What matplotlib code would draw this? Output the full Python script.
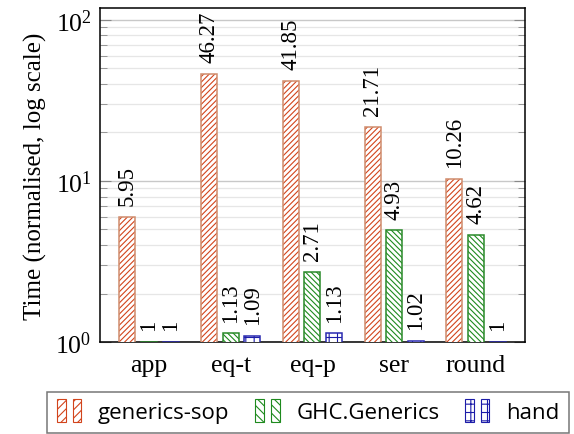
import numpy as np
import matplotlib
matplotlib.use("Agg")
import matplotlib.pyplot as plt
from matplotlib.patches import Rectangle
from matplotlib.legend_handler import HandlerBase

plt.rcParams['font.family'] = 'Liberation Serif'
plt.rcParams['mathtext.fontset'] = 'stix'
plt.rcParams['hatch.linewidth'] = 0.8

benchmarks = ['app', 'eq-t', 'eq-p', 'ser', 'round']
series = ['generics-sop', 'GHC.Generics', 'hand']
sop = [5.95, 46.27, 41.85, 21.71, 10.26]
ghc = [1, 1.13, 2.71, 4.93, 4.62]
hand = [1, 1.09, 1.13, 1.02, 1]
labels = [['5.95', '46.27', '41.85', '21.71', '10.26'],
          ['1', '1.13', '2.71', '4.93', '4.62'],
          ['1', '1.09', '1.13', '1.02', '1']]

hatch_cols = ['#d2441c', '#1e8a1e', '#1c1ca8']
edge_cols = ['#d08c6c', '#2a8a2a', '#2a2ab0']
hatches = ['//////', '\\\\\\\\\\\\', '++']


class TwoBars(HandlerBase):
    def create_artists(self, legend, orig, xd, yd, w, h, fontsize, trans):
        arts = []
        pw = w * 0.36
        for x0 in (0, w * 0.64):
            r = Rectangle((-xd + x0, -yd - h * 0.25), pw, h * 1.5,
                          facecolor='white', edgecolor=orig.get_edgecolor(),
                          hatch=orig.get_hatch(), lw=0.8, transform=trans)
            arts.append(r)
        return arts


fig = plt.figure(figsize=(5.74, 4.35), dpi=100)
ax = fig.add_axes([0.1742, 0.2115, 0.7404, 0.7671])
ax.set_yscale('log')

x = np.arange(len(benchmarks))
w = 0.196
off = 0.264
handles = []
for i, vals in enumerate([sop, ghc, hand]):
    xs = x + (i - 1) * off
    ax.bar(xs, vals, w, color='white', edgecolor=hatch_cols[i], hatch=hatches[i],
           linewidth=0, zorder=3)
    ax.bar(xs, vals, w, fill=False, edgecolor=edge_cols[i], linewidth=1.1, zorder=4)
    handles.append(Rectangle((0, 0), 1, 1, facecolor='white',
                             edgecolor=hatch_cols[i], hatch=hatches[i][:4]))
    for xi, v, t in zip(xs, vals, labels[i]):
        ax.annotate(t, (xi, v), xytext=(0, 8.5), textcoords='offset points',
                    rotation=90, ha='center', va='bottom', fontsize=16.5, zorder=5)

ax.set_xlim(-0.6, 4.6)
ax.set_ylim(1, 118)
ax.set_xticks(x)
ax.set_xticklabels(benchmarks, fontsize=18.5)
ax.tick_params(axis='x', length=0, pad=9)
ax.tick_params(axis='y', which='major', direction='in', length=8, color='#888888',
               left=True, right=True, labelsize=18.5, pad=6)
ax.tick_params(axis='y', which='minor', direction='in', length=5, color='#888888',
               left=True, right=True)
ax.grid(True, which='major', axis='y', color='#c8c8c8', lw=1.0, zorder=0)
ax.grid(True, which='minor', axis='y', color='#e6e6e6', lw=0.9, zorder=0)
ax.set_ylabel('Time (normalised, log scale)', fontsize=18, labelpad=6)
for s in ax.spines.values():
    s.set_linewidth(1.1)

leg = fig.legend(handles, series, loc='upper left', bbox_to_anchor=(47 / 574, 1 - 393 / 435),
                 ncol=3, frameon=True, fancybox=False, borderaxespad=0,
                 handler_map={Rectangle: TwoBars()}, handlelength=1.1, handleheight=0.7,
                 handletextpad=0.75, columnspacing=1.15, borderpad=0.45,
                 prop={'family': 'Open Sans', 'size': 16})
leg.get_frame().set_edgecolor('#555555')
leg.get_frame().set_linewidth(1.1)

fig.savefig('out.png', dpi=100)
